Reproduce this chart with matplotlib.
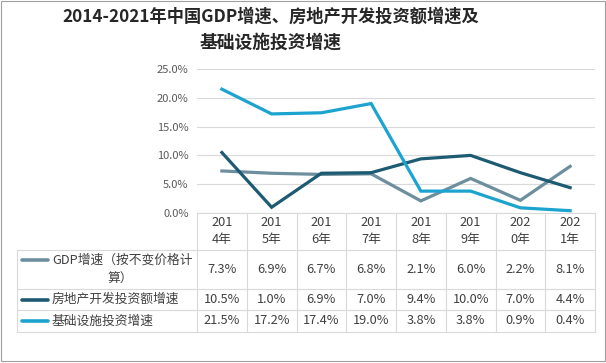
import numpy as np
import matplotlib.pyplot as plt
import matplotlib.transforms as mtransforms

plt.rcParams['font.family'] = ['Noto Sans CJK SC', 'DejaVu Sans']

# --- data ---
years = ["2014年", "2015年", "2016年", "2017年", "2018年", "2019年", "2020年", "2021年"]
year_labels = ["201\n4年", "201\n5年", "201\n6年", "201\n7年", "201\n8年", "201\n9年", "202\n0年", "202\n1年"]
gdp = [7.3, 6.9, 6.7, 6.8, 2.1, 6.0, 2.2, 8.1]
real_estate = [10.5, 1.0, 6.9, 7.0, 9.4, 10.0, 7.0, 4.4]
infra = [21.5, 17.2, 17.4, 19.0, 3.8, 3.8, 0.9, 0.4]

series_names = ["GDP增速（按不变价格计\n算）", "房地产开发投资额增速", "基础设施投资增速"]
series_vals = [gdp, real_estate, infra]
colors = ["#6c8e9d", "#1d5b72", "#1ca3cf"]

title_lines = ["2014-2021年中国GDP增速、房地产开发投资额增速及", "基础设施投资增速"]

W, H = 606, 363
fig = plt.figure(figsize=(W / 100, H / 100), dpi=100)


def fx(x):
    return x / W


def fy(y):
    # pixel from top -> figure fraction
    return 1 - y / H


# --- plot area ---
left, right, top, bottom = 197, 595, 69, 213
ax = fig.add_axes([fx(left), fy(bottom), fx(right - left), (bottom - top) / H])
x = np.arange(len(years))
for vals, c in zip(series_vals, colors):
    ax.plot(x, vals, color=c, lw=2.3, solid_joinstyle="miter", zorder=3)

ax.set_xlim(-0.5, len(years) - 0.5)
ax.set_ylim(0, 25)
ax.set_yticks(np.arange(0, 26, 5))
ax.set_yticklabels([f"{v:.1f}%" for v in np.arange(0, 26, 5)])
ax.tick_params(axis="y", length=0, pad=6, labelsize=8, labelcolor="#595959")
ax.set_xticks([])
ax.grid(axis="y", color="#d9d9d9", lw=0.8)
for s in ax.spines.values():
    s.set_visible(False)

# --- data table ---
grid_c = "#d9d9d9"
txt_c = "#404040"
fs = 9.2
tab_left = 17
row_edges = [213, 250, 289, 310, 332]

trans = mtransforms.blended_transform_factory(ax.transData, fig.transFigure)

# horizontal lines
for i, y in enumerate(row_edges):
    x0 = left if i == 0 else tab_left
    fig.add_artist(plt.Line2D([fx(x0), fx(right)], [fy(y), fy(y)], color=grid_c, lw=0.8))
# vertical lines
col_edges = np.arange(len(years) + 1) - 0.5
for ce in col_edges:
    fig.add_artist(plt.Line2D([ce, ce], [fy(row_edges[0]), fy(row_edges[-1])],
                              color=grid_c, lw=0.8, transform=trans))
fig.add_artist(plt.Line2D([fx(tab_left), fx(tab_left)], [fy(row_edges[1]), fy(row_edges[-1])],
                          color=grid_c, lw=0.8))

# header
for i, lab in enumerate(year_labels):
    fig.text(i, fy((row_edges[0] + row_edges[1]) / 2), lab, transform=trans,
             ha="center", va="center", fontsize=fs, color=txt_c, linespacing=1.4)

# rows
for r, (name, vals, c) in enumerate(zip(series_names, series_vals, colors)):
    yc = fy((row_edges[r + 1] + row_edges[r + 2]) / 2)
    for i, v in enumerate(vals):
        fig.text(i, yc, f"{v:.1f}%", transform=trans, ha="center", va="center",
                 fontsize=fs, color=txt_c)
    if "\n" in name:
        first, second = name.split("\n")
        y1 = yc + 9.5 / H
        fig.text(fx(52), y1, first, ha="left", va="center", fontsize=fs, color=txt_c)
        fig.text(fx(120), yc - 9.5 / H, second, ha="center", va="center", fontsize=fs, color=txt_c)
        fig.add_artist(plt.Line2D([fx(22), fx(48)], [y1, y1], color=c, lw=2.6,
                                  solid_capstyle="round"))
    else:
        fig.text(fx(52), yc, name, ha="left", va="center", fontsize=fs, color=txt_c)
        fig.add_artist(plt.Line2D([fx(22), fx(48)], [yc, yc], color=c, lw=2.6,
                                  solid_capstyle="round"))

# title (two lines, as wrapped in the original)
fig.text(fx(271), fy(17), title_lines[0], ha="center", va="center", fontsize=12.4,
         fontweight="bold", color="#262626")
fig.text(fx(271), fy(43), title_lines[1], ha="center", va="center", fontsize=12.8,
         fontweight="bold", color="#262626")

# outer border
fig.add_artist(plt.Rectangle((fx(1), fy(361)), fx(604), (360) / H, fill=False,
                             edgecolor="#a0a0a0", lw=0.8))

fig.savefig("out.png", dpi=100)
